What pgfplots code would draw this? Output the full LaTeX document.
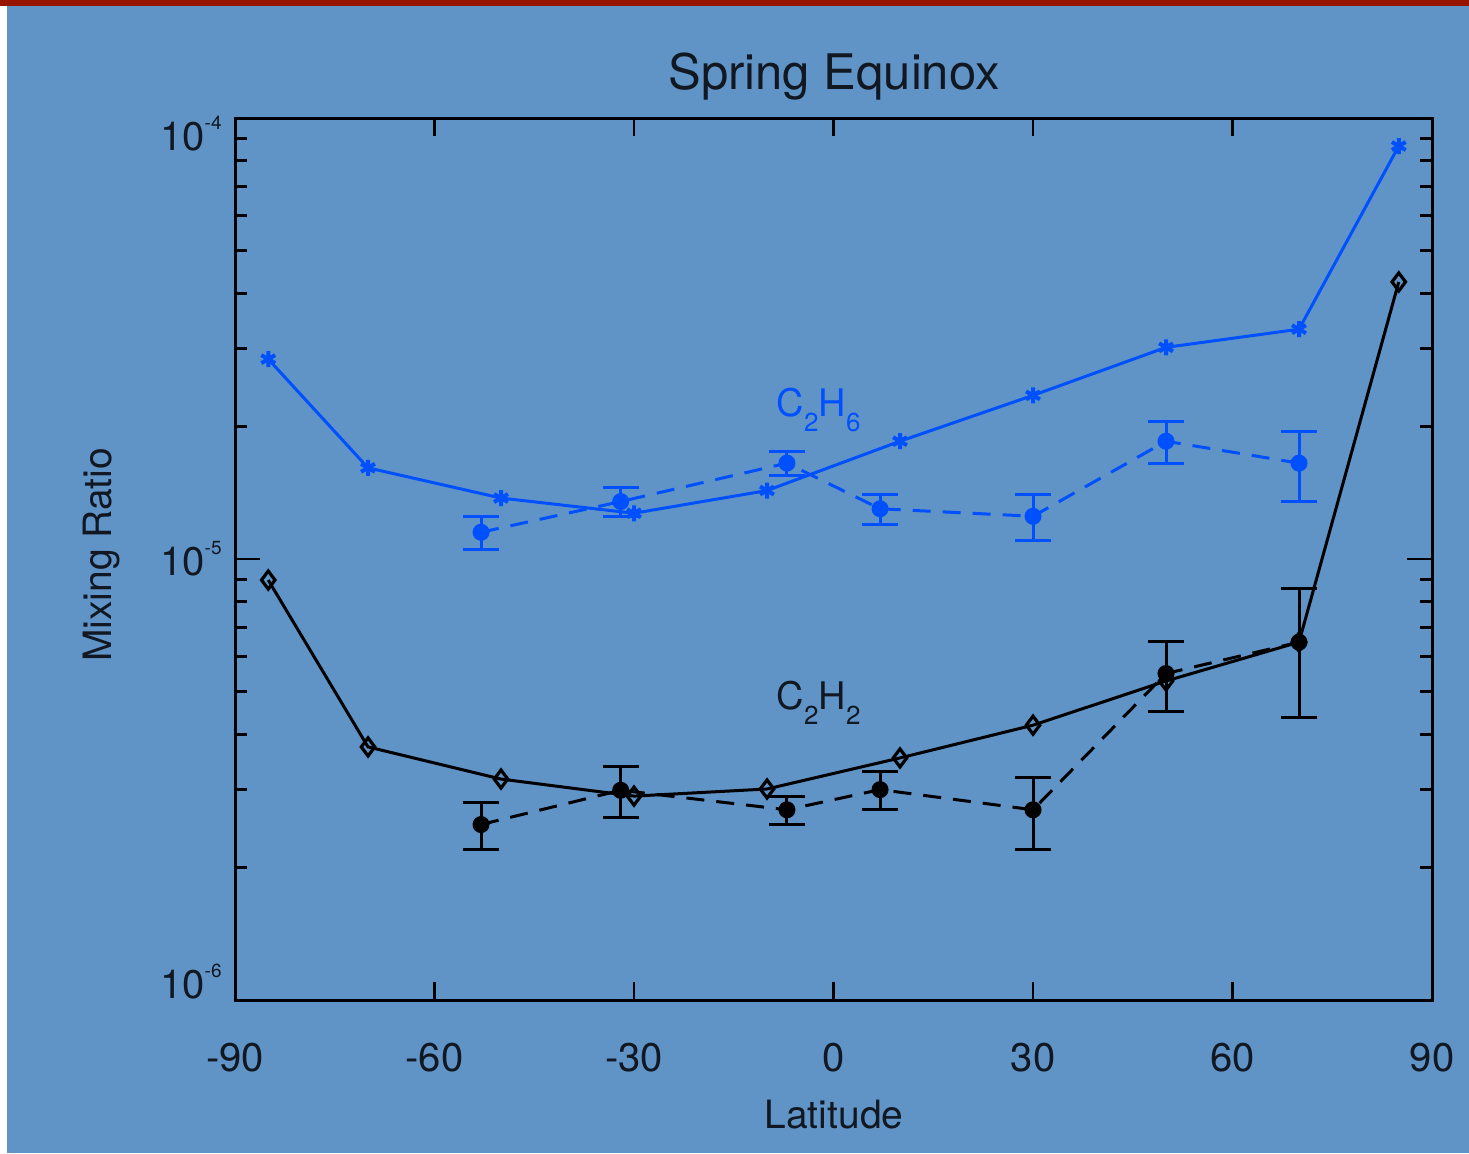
\documentclass[border=0pt]{standalone}
\usepackage{pgfplots}
\pgfplotsset{compat=1.18}
\usepackage{pgfplotstable}
\usepackage{fontspec}
\setmainfont{TeX Gyre Heros}

\definecolor{panel}{RGB}{96,148,199}
\definecolor{band}{RGB}{150,20,0}
\definecolor{ethane}{RGB}{0,80,255}
\definecolor{ink}{RGB}{18,24,34}

% C2H6: model (solid) and retrieved values with 1-sigma errors (dashed)
\pgfplotstableread{
lat val
-85 2.84e-5
-70 1.61e-5
-50 1.375e-5
-30 1.27e-5
-10 1.43e-5
10 1.85e-5
30 2.35e-5
50 3.02e-5
70 3.32e-5
85 8.64e-5
}\ethanemodel

\pgfplotstableread{
lat val err
-53 1.15e-5 0.10e-5
-32 1.35e-5 0.10e-5
-7 1.65e-5 0.10e-5
7 1.30e-5 0.10e-5
30 1.25e-5 0.15e-5
50 1.85e-5 0.20e-5
70 1.65e-5 0.30e-5
}\ethaneobs

% C2H2: model (solid) and retrieved values with 1-sigma errors (dashed)
\pgfplotstableread{
lat val
-85 8.96e-6
-70 3.75e-6
-50 3.17e-6
-30 2.90e-6
-10 3.01e-6
10 3.54e-6
30 4.20e-6
50 5.29e-6
70 6.48e-6
85 4.25e-5
}\acetylenemodel

\pgfplotstableread{
lat val err
-53 2.50e-6 0.30e-6
-32 2.99e-6 0.40e-6
-7 2.70e-6 0.20e-6
7 3.00e-6 0.30e-6
30 2.70e-6 0.50e-6
50 5.50e-6 1.00e-6
70 6.48e-6 2.10e-6
}\acetyleneobs

\newcommand{\decade}[1]{10\raisebox{10.5pt}{\fontsize{9.5}{9.5}\selectfont -#1}}
\newcommand{\sub}[1]{\raisebox{-7.5pt}{\fontsize{13}{13}\selectfont #1}}

\begin{document}
\begin{tikzpicture}
\useasboundingbox (0,0) rectangle (734.5pt,576.5pt);
\fill[panel] (0,0) rectangle (734.5pt,576.5pt);
\fill[band] (0,573.5pt) rectangle (734.5pt,576.5pt);
\fill[white] (0,0) rectangle (3.5pt,573.5pt);

\begin{axis}[
  at={(117.5pt,76.5pt)}, anchor=south west,
  scale only axis, width=598.5pt, height=441pt,
  xmin=-90, xmax=90, ymode=log, ymin=1e-6, ymax=1e-4,
  xtick={-90,-60,-30,0,30,60,90},
  xticklabels={-90,-60,-30,0,30,60,90},
  ytick={1e-6,1e-5,1e-4},
  yticklabels={\raisebox{9pt}[\height][\depth]{\decade{6}},\decade{5},\raisebox{-7.75pt}[\height][\depth]{\decade{4}}},
  /pgf/number format/assume math mode=true,
  axis line style={line width=1.5pt, black},
  every major tick/.append style={line width=1.4pt, black},
  every minor tick/.append style={line width=1.4pt, black},
  tick align=inside,
  major tick length=12.5pt, minor tick length=6pt,
  xtick style={/pgfplots/major tick length=9pt},
  xticklabel style={font=\fontsize{20}{22}\selectfont, text=ink, inner sep=0pt, anchor=north, yshift=-21.5pt},
  yticklabel style={font=\fontsize{20}{22}\selectfont, text=ink, inner sep=0pt, anchor=east, xshift=-6.5pt},
  clip=false,
]
\addplot[ethane, line width=1.5pt, mark=asterisk, mark size=4pt, mark options={solid, line width=2pt}]
  table[x=lat, y=val] {\ethanemodel};
\addplot[ethane, line width=1.5pt, dash pattern=on 9pt off 6pt,
  mark=*, mark size=3.5pt, mark options={solid},
  error bars/.cd, y dir=both, y explicit,
  error bar style={solid, line width=1.5pt},
  error mark options={solid, line width=1.5pt, mark size=9pt, rotate=90}]
  table[x=lat, y=val, y error=err] {\ethaneobs};

\addplot[black, line width=1.5pt, mark=diamond, mark size=4.5pt, mark options={solid, line width=1.6pt}]
  table[x=lat, y=val] {\acetylenemodel};
\addplot[black, line width=1.5pt, dash pattern=on 9pt off 6pt,
  mark=*, mark size=3.5pt, mark options={solid},
  error bars/.cd, y dir=both, y explicit,
  error bar style={solid, line width=1.5pt},
  error mark options={solid, line width=1.5pt, mark size=9pt, rotate=90}]
  table[x=lat, y=val, y error=err] {\acetyleneobs};

\node[anchor=base west, inner sep=0pt, text=ethane, font=\fontsize{19}{20}\selectfont]
  at (axis cs:-8.6,2.10e-5) {C\sub{2}H\sub{6}};
\node[anchor=base west, inner sep=0pt, text=ink, font=\fontsize{19}{20}\selectfont]
  at (axis cs:-8.6,4.57e-6) {C\sub{2}H\sub{2}};
\end{axis}

\node[anchor=base, inner sep=0pt, text=ink, font=\fontsize{24.5}{26}\selectfont]
  at (417pt,531.5pt) {Spring Equinox};
\node[anchor=base, inner sep=0pt, text=ink, font=\fontsize{19.5}{21}\selectfont]
  at (417pt,12.5pt) {Latitude};
\node[anchor=base, rotate=90, inner sep=0pt, text=ink, font=\fontsize{19.5}{21}\selectfont]
  at (56pt,299pt) {Mixing Ratio};
\end{tikzpicture}
\end{document}
